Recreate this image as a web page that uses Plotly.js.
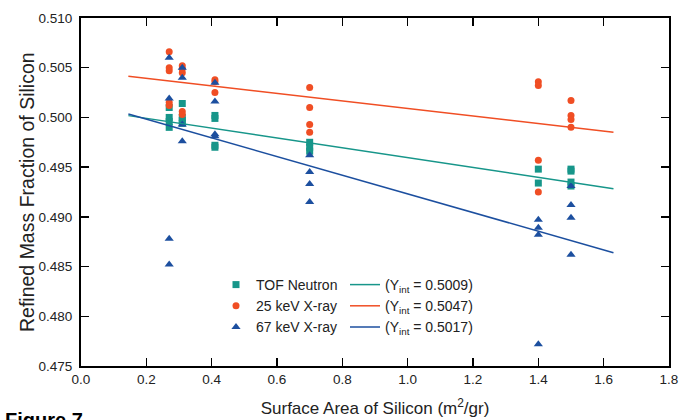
<!DOCTYPE html>
<html>
<head>
<meta charset="utf-8">
<script src="https://cdn.plot.ly/plotly-3.0.1.min.js"></script>
<style>html,body{margin:0;padding:0;background:#fff;}#chart{width:680px;height:420px;}</style>
</head>
<body>
<div id="chart"></div>
<script>
// ---- Data ----
const seriesNames = ["TOF Neutron", "25 keV X-ray", "67 keV X-ray"];

const neutronX = [0.27,0.27,0.27,0.27, 0.31,0.31,0.31,0.31, 0.41,0.41,0.41,0.41, 0.70,0.70,0.70, 1.40,1.40, 1.50,1.50,1.50,1.50];
const neutronY = [0.5010,0.5000,0.4996,0.4990, 0.5014,0.5000,0.4997,0.4994, 0.5002,0.4999,0.4972,0.4970, 0.4975,0.4970,0.4966, 0.4948,0.4934, 0.4948,0.4946,0.4935,0.4931];

const xray25X = [0.27,0.27,0.27,0.27,0.27, 0.31,0.31,0.31,0.31,0.31, 0.41,0.41,0.41, 0.70,0.70,0.70,0.70, 1.40,1.40,1.40,1.40, 1.50,1.50,1.50,1.50];
const xray25Y = [0.5066,0.5050,0.5047,0.5015,0.5012, 0.5052,0.5049,0.5045,0.5006,0.5003, 0.5038,0.5036,0.5025, 0.5030,0.5010,0.4993,0.4985, 0.5036,0.5032,0.4957,0.4925, 0.5017,0.5002,0.4998,0.4990];

const xray67X = [0.27,0.27,0.27,0.27, 0.31,0.31,0.31,0.31, 0.41,0.41,0.41,0.41, 0.70,0.70,0.70,0.70, 1.40,1.40,1.40,1.40, 1.50,1.50,1.50,1.50];
const xray67Y = [0.5060,0.5019,0.4878,0.4852, 0.5050,0.5040,0.4993,0.4976, 0.5035,0.5016,0.4983,0.4981, 0.4962,0.4945,0.4933,0.4915, 0.4897,0.4889,0.4882,0.4772, 0.4931,0.4912,0.4899,0.4862];

// Linear fits: intercepts (from legend) and slopes
const fitIntercepts = [0.5009, 0.5047, 0.5017];
const fitSlopes = [-0.00495, -0.0038, -0.00939];
const fitXRange = [0.145, 1.63];

// ---- Styling ----
const colors = ["#17968a", "#f04e24", "#1c4f9f"];
const symbols = ["square", "circle", "triangle-up"];
const font = "Arial, 'Liberation Sans', sans-serif";

const xs = [neutronX, xray25X, xray67X];
const ys = [neutronY, xray25Y, xray67Y];

const traces = [];
for (let i = 0; i < 3; i++) {
  traces.push({
    type: "scatter", mode: "markers", x: xs[i], y: ys[i], name: seriesNames[i],
    marker: {symbol: symbols[i], color: colors[i], size: i === 2 ? 8 : 7},
    legend: "legend", cliponaxis: false
  });
}
for (let i = 0; i < 3; i++) {
  const lx = fitXRange.slice();
  const ly = lx.map(v => fitIntercepts[i] + fitSlopes[i] * v);
  traces.push({
    type: "scatter", mode: "lines", x: lx, y: ly,
    name: "(Y<sub>int</sub> = " + fitIntercepts[i].toFixed(4) + ")",
    line: {color: colors[i], width: 1.5},
    legend: "legend2"
  });
}

const axisCommon = {
  showline: true, linecolor: "#000", linewidth: 2, mirror: "ticks",
  ticks: "inside", ticklen: 8, tickwidth: 1.5, tickcolor: "#000",
  showgrid: false, zeroline: false,
  tickfont: {family: font, size: 13.5, color: "#222"}
};

const layout = {
  width: 680, height: 420,
  margin: {l: 81, r: 11, t: 18, b: 54},
  paper_bgcolor: "#fff", plot_bgcolor: "#fff",
  font: {family: font, color: "#222"},
  xaxis: Object.assign({}, axisCommon, {
    range: [0, 1.8], dtick: 0.2, tick0: 0, tickformat: ".1f",
    title: {text: "Surface Area of Silicon (m<sup>2</sup>/gr)", font: {family: font, size: 17, color: "#222"}, standoff: 16}
  }),
  yaxis: Object.assign({}, axisCommon, {
    range: [0.475, 0.510], dtick: 0.005, tick0: 0.475, tickformat: ".3f",
    ticklabelstandoff: 4
  }),
  legend: {
    x: (216 - 81) / 588, y: (366 - 269) / 348, xanchor: "left", yanchor: "top",
    bgcolor: "rgba(0,0,0,0)", borderwidth: 0,
    font: {family: font, size: 14, color: "#222"}, tracegroupgap: 0
  },
  legend2: {
    x: (345 - 81) / 588, y: (366 - 269) / 348, xanchor: "left", yanchor: "top",
    bgcolor: "rgba(0,0,0,0)", borderwidth: 0,
    font: {family: font, size: 14, color: "#222"}, tracegroupgap: 0
  },
  showlegend: true,
  annotations: [
    {
      text: "Refined Mass Fraction of Silicon", textangle: -90,
      xref: "paper", yref: "paper",
      x: (27 - 81) / 588, y: 0.5, xanchor: "center", yanchor: "middle",
      showarrow: false, font: {family: font, size: 19.5, color: "#222"}
    },
    {
      text: "<b>Figure 7</b>", xref: "paper", yref: "paper",
      x: (3 - 81) / 588, y: (366 - 407) / 348, xanchor: "left", yanchor: "top",
      showarrow: false, font: {family: font, size: 20, color: "#000"}
    }
  ]
};

Plotly.newPlot("chart", traces, layout, {displayModeBar: false, staticPlot: true});
</script>
</body>
</html>
